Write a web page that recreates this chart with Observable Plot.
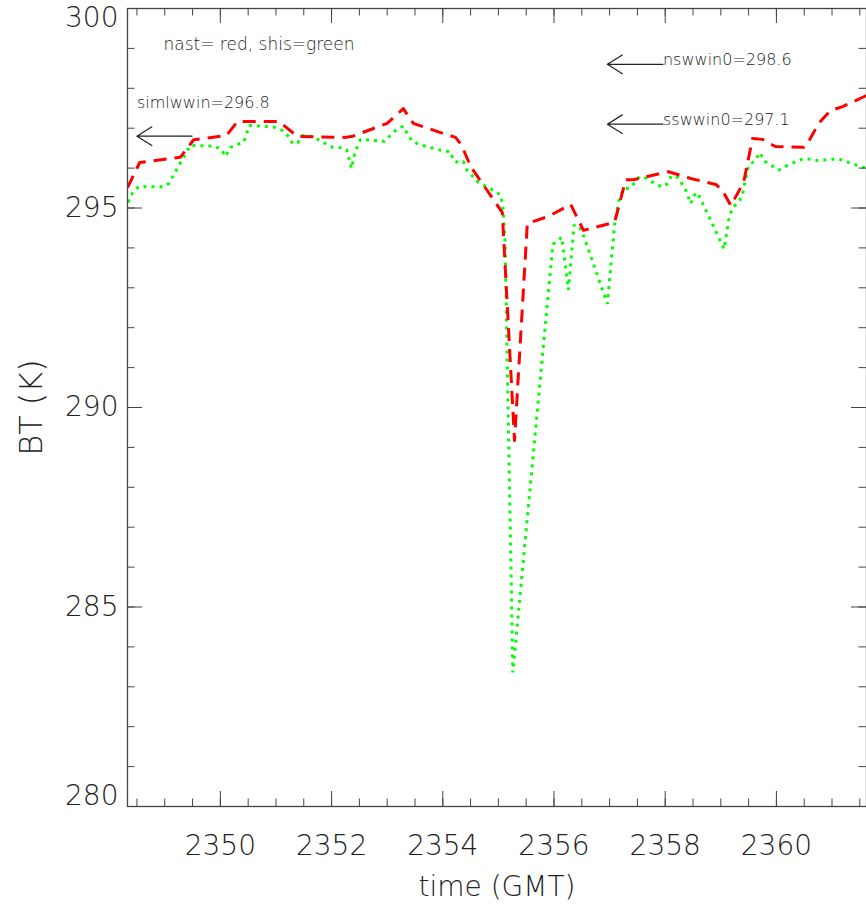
<!DOCTYPE html>
<html>
<head>
<meta charset="utf-8">
<script src="https://cdn.jsdelivr.net/npm/d3@7"></script>
<script src="https://cdn.jsdelivr.net/npm/@observablehq/plot@0.6"></script>
<style>
  html, body { margin: 0; padding: 0; background: #fff; }
  #chart svg { display: block; }
</style>
</head>
<body>
<div id="chart"></div>
<script>
// nast (red, dashed)
const nastTime = [2348.33,2348.55,2349.28,2349.52,2350.11,2350.31,2351.05,2351.39,2352.25,2352.38,2353.00,2353.29,2353.47,2353.96,2354.23,2354.34,2354.50,2355.07,2355.29,2355.52,2355.90,2356.30,2356.53,2357.09,2357.29,2357.43,2358.06,2358.46,2358.91,2359.03,2359.18,2359.41,2359.57,2359.75,2359.98,2360.49,2360.58,2360.76,2360.97,2361.19,2361.62];
const nastBT   = [295.51,296.14,296.27,296.71,296.82,297.17,297.17,296.79,296.77,296.80,297.12,297.49,297.12,296.89,296.77,296.57,296.04,294.89,289.17,294.61,294.79,295.09,294.44,294.64,295.71,295.71,295.91,295.74,295.59,295.44,295.06,295.64,296.74,296.72,296.54,296.52,296.67,297.12,297.44,297.54,297.82];

// shis (green, dotted)
const shisTime = [2348.34,2348.42,2348.53,2348.96,2349.07,2349.46,2349.89,2350.02,2350.09,2350.18,2350.42,2350.52,2350.96,2351.12,2351.23,2351.30,2351.39,2351.48,2351.59,2351.75,2351.87,2352.02,2352.13,2352.27,2352.36,2352.41,2352.47,2352.52,2352.95,2353.06,2353.17,2353.29,2353.36,2353.45,2353.58,2354.01,2354.14,2354.19,2354.28,2354.37,2354.43,2354.64,2354.79,2355.04,2355.08,2355.12,2355.26,2355.98,2356.14,2356.26,2356.36,2356.45,2356.52,2356.96,2357.09,2357.18,2357.25,2357.38,2357.54,2357.68,2357.81,2357.95,2358.04,2358.11,2358.24,2358.37,2358.46,2358.51,2358.58,2359.06,2359.14,2359.19,2359.23,2359.32,2359.40,2359.44,2359.50,2359.62,2359.70,2359.79,2360.04,2360.20,2360.47,2360.58,2360.74,2360.99,2361.12,2361.28,2361.62];
const shisBT   = [295.14,295.38,295.53,295.53,295.61,296.57,296.55,296.47,296.29,296.52,296.65,297.07,297.03,296.94,296.79,296.61,296.63,296.82,296.82,296.72,296.63,296.52,296.52,296.46,295.99,296.34,296.57,296.72,296.67,296.82,296.97,297.05,296.87,296.67,296.59,296.43,296.41,296.19,296.14,296.17,295.96,295.64,295.54,295.33,295.06,294.19,283.36,294.09,294.27,292.95,294.57,294.55,294.35,292.60,294.59,295.27,295.47,295.51,295.79,295.74,295.61,295.53,295.61,295.81,295.76,295.44,295.11,295.31,295.39,293.97,294.69,294.92,295.04,295.14,295.40,295.69,296.07,296.19,296.39,296.17,295.95,296.07,296.23,296.23,296.19,296.22,296.23,296.15,295.99];

// reference values marked with arrows
const refNames  = ["simlwwin", "nswwin0", "sswwin0"];
const refValues = [296.8, 298.6, 297.1];
const refFrom   = [2349.49, 2357.96, 2357.96];
const refTo     = [2348.50, 2356.96, 2356.96];

// axes
const xDomain = [2348.33, 2361.62];
const yDomain = [280, 300];
const xMajor = [2350, 2352, 2354, 2356, 2358, 2360];
const xMinor = d3.range(2348.5, 2361.6, 0.5);
const yMajor = [280, 285, 290, 295, 300];
const yMinor = d3.range(280, 301, 1);
const xTitle = "time (GMT)";
const yTitle = "BT (K)";
const legendText = "nast= red, shis=green";

const W = 866, H = 906, mL = 127, mT = 8, mR = 0, mB = 100;
const fW = W - mL - mR, fH = H - mT - mB;

const nast = nastTime.map((t, i) => ({t, v: nastBT[i]}));
const shis = shisTime.map((t, i) => ({t, v: shisBT[i]}));
const refs = refNames.map((n, i) => ({label: `${n}=${refValues[i]}`, v: refValues[i], x1: refFrom[i], x2: refTo[i]}));

const font = "'DejaVu Sans', sans-serif";
const ink = "#222";
const axisInk = "#444";
const fmt = d3.format("d");

const chart = Plot.plot({
  width: W, height: H,
  marginLeft: mL, marginTop: mT, marginRight: mR, marginBottom: mB,
  x: {domain: xDomain},
  y: {domain: yDomain},
  style: {fontFamily: font, background: "#fff", color: ink, fontWeight: 200},
  marks: [
    Plot.line(shis, {x: "t", y: "v", stroke: "#00ff00", strokeWidth: 3, strokeDasharray: "3,5", strokeLinecap: "butt", strokeLinejoin: "miter", clip: true}),
    Plot.line(nast, {x: "t", y: "v", stroke: "#ff0000", strokeWidth: 3, strokeDasharray: "13,8", strokeLinecap: "butt", strokeLinejoin: "round", clip: true}),
    Plot.frame({stroke: axisInk, strokeWidth: 1.3}),
    // ticks (inward) bottom & top
    Plot.tickX(xMinor, {x: d => d, insetTop: fH - 7.5, stroke: axisInk}),
    Plot.tickX(xMajor, {x: d => d, insetTop: fH - 15, stroke: axisInk}),
    Plot.tickX(xMinor, {x: d => d, insetBottom: fH - 7.5, stroke: axisInk}),
    Plot.tickX(xMajor, {x: d => d, insetBottom: fH - 15, stroke: axisInk}),
    // ticks left & right
    Plot.tickY(yMinor, {y: d => d, insetRight: fW - 7.5, stroke: axisInk}),
    Plot.tickY(yMajor, {y: d => d, insetRight: fW - 15, stroke: axisInk}),
    Plot.tickY(yMinor, {y: d => d, insetLeft: fW - 7.5, stroke: axisInk}),
    Plot.tickY(yMajor, {y: d => d, insetLeft: fW - 15, stroke: axisInk}),
    Plot.axisX({ticks: xMajor, tickSize: 0, tickPadding: 29, fontSize: 28, tickFormat: fmt, label: null}),
    Plot.axisY({ticks: yMajor.filter(v => v > yDomain[0] && v < yDomain[1]), tickSize: 0, tickPadding: 9, fontSize: 28, tickFormat: fmt, label: null}),
    Plot.axisY({ticks: [yDomain[1]], tickSize: 0, tickPadding: 9, fontSize: 28, tickFormat: fmt, label: null, dy: 10}),
    Plot.axisY({ticks: [yDomain[0]], tickSize: 0, tickPadding: 9, fontSize: 28, tickFormat: fmt, label: null, dy: -10}),
    Plot.text([yTitle], {frameAnchor: "left", dx: -96, rotate: -90, fontSize: 32, fill: ink, textAnchor: "middle", lineAnchor: "middle"}),
    Plot.text([xTitle], {frameAnchor: "bottom", dy: 81, fontSize: 28, fill: ink, textAnchor: "middle", lineAnchor: "middle"}),
    Plot.text([legendText], {frameAnchor: "top-left", dx: 36, dy: 29, fontSize: 17, fill: ink, textAnchor: "start", lineAnchor: "top"}),
    // arrows
    Plot.arrow(refs, {x1: "x1", x2: "x2", y1: "v", y2: "v", stroke: ink, strokeWidth: 1.2, headLength: 22, headAngle: 64}),
    Plot.text(refs.slice(0, 1), {x: "x2", y: "v", text: "label", dy: -40, fontSize: 16, fill: ink, textAnchor: "start", lineAnchor: "top"}),
    Plot.text(refs.slice(1), {x: "x1", y: "v", text: "label", dy: -11, fontSize: 16, fill: ink, textAnchor: "start", lineAnchor: "top"})
  ]
});
document.getElementById("chart").appendChild(chart);
</script>
</body>
</html>
